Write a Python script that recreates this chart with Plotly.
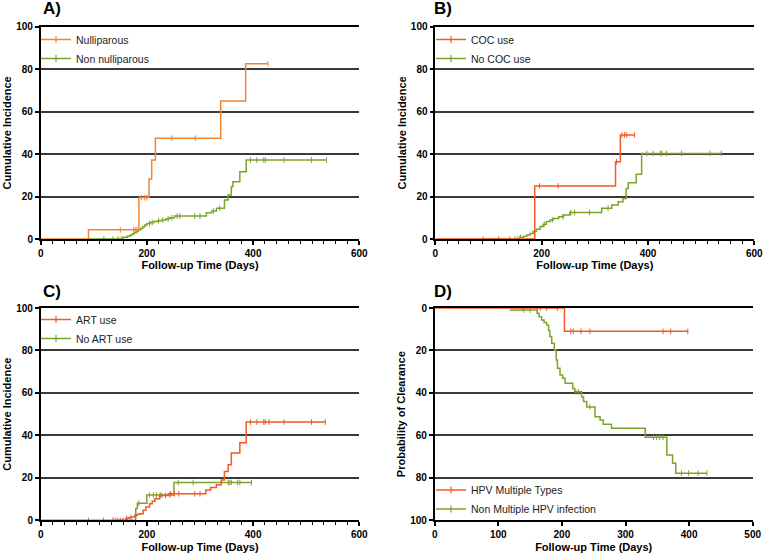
import numpy as np
import plotly.graph_objects as go

# ---------------- Data ----------------
# Panel A
A_null_name = "Nulliparous"
A_null_t = [0, 90, 185, 204, 209, 216, 339, 386]
A_null_v = [0, 4.3, 19.5, 28.3, 37.2, 47.5, 65.0, 82.5]
A_null_end = 428
A_null_cens = [150, 175, 178, 181, 190, 196, 200, 247, 291, 428]

A_non_name = "Non nulliparous"
A_non_t = [90, 155, 163, 168, 172, 176, 180, 184, 188, 192, 196, 200, 206, 213, 220, 228,
           236, 243, 252, 312, 322, 331, 346, 353, 359, 362, 375, 387]
A_non_v = [0, 0.8, 1.3, 1.8, 2.3, 2.9, 3.5, 4.3, 5.0, 5.8, 6.6, 7.3, 7.8, 8.2, 8.6, 9.0,
           9.5, 10.0, 10.8, 12.4, 13.2, 14.5, 18.4, 20.7, 24.6, 27.0, 31.7, 37.2]
A_non_end = 538
A_non_cens = [119, 136, 146, 152, 205, 210, 222, 230, 240, 247, 257, 262, 290, 300, 325, 337,
              395, 407, 420, 423, 458, 510, 538]

# Panel B
B_coc_name = "COC use"
B_coc_t = [0, 187, 339, 348]
B_coc_v = [0, 25.0, 36.4, 49.0]
B_coc_end = 375
B_coc_cens = [196, 231, 341, 351, 356, 360, 375]

B_no_name = "No COC use"
B_no_t = [90, 159, 166, 172, 178, 184, 190, 197, 203, 209, 216, 222, 232, 241, 253,
          313, 332, 344, 353, 359, 363, 378, 388]
B_no_v = [0, 0.8, 1.3, 1.9, 2.6, 3.5, 4.6, 5.9, 7.0, 8.2, 9.0, 9.7, 10.5, 11.3, 12.5,
          14.5, 16.0, 17.5, 19.1, 23.8, 26.5, 30.5, 40.3]
B_no_end = 538
B_no_cens = [90, 119, 140, 150, 155, 160, 205, 220, 240, 255, 262, 290, 325,
             398, 410, 423, 426, 435, 463, 517, 538]

# Panel C
C_art_name = "ART use"
C_art_t = [0, 160, 166, 171, 177, 182, 187, 193, 198, 205, 210, 215, 224, 240,
           311, 320, 331, 340, 346, 353, 359, 375, 387]
C_art_v = [0, 0.9, 1.3, 1.6, 2.4, 2.8, 3.1, 4.7, 6.3, 7.8, 9.0, 10.2, 11.7, 12.5,
           14.3, 15.5, 16.7, 19.0, 23.0, 26.2, 31.7, 36.5, 46.3]
C_art_end = 536
C_art_cens = [90, 118, 136, 145, 150, 155, 162, 170, 228, 235, 245, 252, 260, 290, 300,
              395, 407, 420, 423, 430, 458, 510, 536]

C_no_name = "No ART use"
C_no_t = [140, 179, 182, 200, 251]
C_no_v = [0, 5.5, 8.0, 11.9, 17.8]
C_no_end = 397
C_no_cens = [140, 163, 185, 205, 212, 218, 225, 243, 259, 287, 353, 356, 359, 371, 375, 397]

# Panel D
D_mult_name = "HPV Multiple Types"
D_mult_t = [0, 204]
D_mult_v = [0, 11.0]
D_mult_end = 398
D_mult_cens = [137, 161, 166, 176, 193, 214, 218, 230, 244, 359, 371, 398]

D_non_name = "Non Multiple HPV infection"
D_non_t = [118, 161, 164, 168, 172, 176, 179, 181, 184, 188, 191, 193, 197, 201, 205,
           217, 220, 231, 234, 239, 252, 260, 265, 278, 331, 365, 374, 379]
D_non_v = [1.0, 2.5, 4.1, 5.6, 6.8, 8.0, 10.5, 13.4, 16.6, 19.8, 24.5, 28.4, 31.6, 33.1, 35.5,
           37.9, 39.5, 41.9, 44.0, 46.6, 51.2, 52.7, 54.8, 56.7, 60.9, 69.2, 73.1, 77.8]
D_non_end = 428
D_non_cens = [140, 150, 222, 226, 244, 344, 349, 354, 359, 388, 399, 414, 428]

x_ticks_600 = [0, 200, 400, 600]
x_ticks_500 = [0, 100, 200, 300, 400, 500]
y_ticks = [0, 20, 40, 60, 80, 100]

# ---------------- Styles ----------------
ORANGE_A = '#F5842C'
ORANGE = '#EF5A27'
GREEN = '#7CA32A'
FONT = 'Liberation Sans, Arial, sans-serif'

fig = go.Figure()


def step_xy(t, v, end):
    return list(t) + [end], list(v) + [v[-1]]


def cens_y(t, v, cens):
    idx = np.searchsorted(np.array(t), np.array(cens), side='right') - 1
    return list(np.array(v)[idx])


panels = [
    ('x', 'y', 'legend', [(A_null_name, A_null_t, A_null_v, A_null_end, A_null_cens, ORANGE_A),
                          (A_non_name, A_non_t, A_non_v, A_non_end, A_non_cens, GREEN)]),
    ('x2', 'y2', 'legend2', [(B_coc_name, B_coc_t, B_coc_v, B_coc_end, B_coc_cens, ORANGE),
                             (B_no_name, B_no_t, B_no_v, B_no_end, B_no_cens, GREEN)]),
    ('x3', 'y3', 'legend3', [(C_art_name, C_art_t, C_art_v, C_art_end, C_art_cens, ORANGE),
                             (C_no_name, C_no_t, C_no_v, C_no_end, C_no_cens, GREEN)]),
    ('x4', 'y4', 'legend4', [(D_mult_name, D_mult_t, D_mult_v, D_mult_end, D_mult_cens, ORANGE),
                             (D_non_name, D_non_t, D_non_v, D_non_end, D_non_cens, GREEN)]),
]

for xa, ya, lg, series in panels:
    # legend entries (line with a censor tick)
    for name, t, v, end, cens, col in series:
        fig.add_trace(go.Scatter(x=[None], y=[None], mode='lines+markers', name=name,
                                 line=dict(color=col, width=1.5),
                                 marker=dict(symbol='line-ns', size=5, line=dict(color=col, width=1.2)),
                                 xaxis=xa, yaxis=ya, legend=lg, showlegend=True))
    # draw green first, orange on top
    for name, t, v, end, cens, col in reversed(series):
        sx, sy = step_xy(t, v, end)
        fig.add_trace(go.Scatter(x=sx, y=sy, mode='lines', line=dict(color=col, width=1.5, shape='hv'),
                                 xaxis=xa, yaxis=ya, showlegend=False, hoverinfo='skip'))
        fig.add_trace(go.Scatter(x=cens, y=cens_y(t, v, cens), mode='markers',
                                 marker=dict(symbol='line-ns', size=4, line=dict(color=col, width=1)),
                                 xaxis=xa, yaxis=ya, showlegend=False, hoverinfo='skip'))

W, H = 764, 556
XL = [40.7 / W, 359.3 / W]
XR = [435.3 / W, 754.3 / W]
XRD = [434.7 / W, 752.7 / W]
YT = [1 - 239 / H, 1 - 26.7 / H]
YB = [1 - 520.3 / H, 1 - 308 / H]

tickfont = dict(family=FONT, size=10, color='black', weight='bold')
titlefont = dict(family=FONT, size=11, color='black', weight='bold')

common = dict(showline=True, linecolor='black', linewidth=1.5, ticks='outside', ticklen=4,
              tickwidth=1.5, tickcolor='black', tickfont=tickfont, zeroline=False,
              automargin=False)


def xaxis(domain, anchor, rng, vals, minor):
    d = dict(common, domain=domain, anchor=anchor, range=rng, tickvals=vals, showgrid=False,
             mirror=True, title=dict(text='Follow-up Time (Days)', font=titlefont, standoff=4))
    if minor:
        d['minor'] = dict(tick0=0, dtick=200 / 9, ticks='outside', ticklen=3, tickwidth=1,
                          tickcolor='black', showgrid=False)
    return d


def yaxis(domain, anchor, rng, title):
    return dict(common, domain=domain, anchor=anchor, range=rng, tickvals=y_ticks, showgrid=True,
                gridcolor='#3a3a3a', gridwidth=1.5,
                title=dict(text=title, font=titlefont, standoff=2))


legend_common = dict(font=dict(family=FONT, size=10.5, color='#222'), bgcolor='rgba(0,0,0,0)',
                     itemwidth=30, tracegroupgap=0, xanchor='left', yanchor='top',
                     itemclick=False, itemdoubleclick=False)

fig.update_layout(
    width=W, height=H, margin=dict(l=0, r=0, t=0, b=0, autoexpand=False),
    plot_bgcolor='white', paper_bgcolor='white',
    font=dict(family=FONT, color='black'),
    xaxis=xaxis(XL, 'y', [0, 600], x_ticks_600, True),
    yaxis=yaxis(YT, 'x', [0, 100], 'Cumulative Incidence'),
    xaxis2=xaxis(XR, 'y2', [0, 600], x_ticks_600, True),
    yaxis2=yaxis(YT, 'x2', [0, 100], 'Cumulative Incidence'),
    xaxis3=xaxis(XL, 'y3', [0, 600], x_ticks_600, True),
    yaxis3=yaxis(YB, 'x3', [0, 100], 'Cumulative Incidence'),
    xaxis4=xaxis(XRD, 'y4', [0, 500], x_ticks_500, False),
    yaxis4=yaxis(YB, 'x4', [100, 0], 'Probability of Clearance'),
    legend=dict(legend_common, x=36 / W, y=1 - 25 / H),
    legend2=dict(legend_common, x=431 / W, y=1 - 25 / H),
    legend3=dict(legend_common, x=36 / W, y=1 - 305 / H),
    legend4=dict(legend_common, x=431 / W, y=1 - 475.5 / H),
    showlegend=True,
)

panel_labels = [('A)', 40.7, 8.5), ('B)', 432, 8.5), ('C)', 40.7, 291.5), ('D)', 432, 291.5)]
for txt, px, py in panel_labels:
    fig.add_annotation(text=txt, xref='paper', yref='paper', x=px / W, y=1 - py / H,
                       xanchor='left', yanchor='middle', showarrow=False,
                       font=dict(family=FONT, size=17, color='black', weight='bold'))

fig.write_html("out.html", config={'displayModeBar': False},
               post_script="document.body.style.margin='0';")
